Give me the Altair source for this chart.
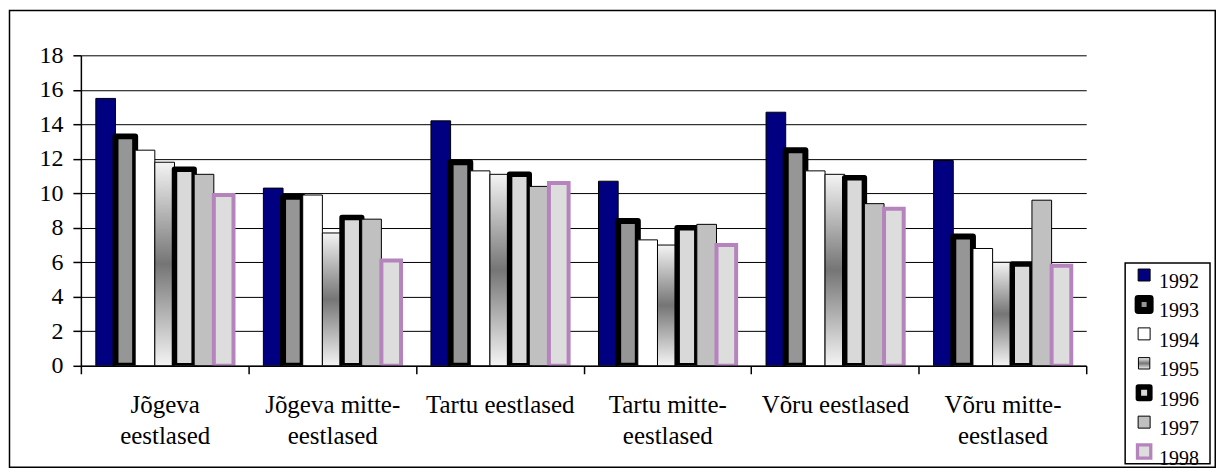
import altair as alt
import pandas as pd

categories = ["Jõgeva|eestlased", "Jõgeva mitte-|eestlased", "Tartu eestlased",
              "Tartu mitte-|eestlased", "Võru eestlased", "Võru mitte-|eestlased"]
years = ["1992", "1993", "1994", "1995", "1996", "1997", "1998"]
v1992 = [15.5, 10.3, 14.2, 10.7, 14.7, 11.9]
v1993 = [13.3, 9.8, 11.8, 8.4, 12.5, 7.5]
v1994 = [12.5, 9.9, 11.3, 7.3, 11.3, 6.8]
v1995 = [11.8, 7.7, 11.1, 7.0, 11.1, 6.0]
v1996 = [11.4, 8.6, 11.1, 8.0, 10.9, 5.9]
v1997 = [11.1, 8.5, 10.4, 8.2, 9.4, 9.6]
v1998 = [9.9, 6.1, 10.6, 7.0, 9.1, 5.8]
y_ticks = [0, 2, 4, 6, 8, 10, 12, 14, 16, 18]

series = [v1992, v1993, v1994, v1995, v1996, v1997, v1998]
rows = []
for yr, vals in zip(years, series):
    for c, v in zip(categories, vals):
        rows.append({"category": c, "year": yr, "value": v})
df = pd.DataFrame(rows)

FONT = "Liberation Serif, Times New Roman, DejaVu Serif, serif"

gradient = alt.LinearGradient(
    gradient="linear",
    stops=[alt.GradientStop(color="#f4f4f4", offset=0),
           alt.GradientStop(color="#757575", offset=0.5),
           alt.GradientStop(color="#f4f4f4", offset=1)],
    x1=0, x2=0, y1=0, y2=1,
)

bar_styles = {
    "1992": dict(fill="#000080", stroke="#000000", strokeWidth=1),
    "1993": dict(fill="#969696", stroke="#000000", strokeWidth=6, strokeJoin="round"),
    "1994": dict(fill="#ffffff", stroke="#000000", strokeWidth=1),
    "1995": dict(fill=gradient, stroke="#000000", strokeWidth=1),
    "1996": dict(fill="#d9d9d9", stroke="#000000", strokeWidth=5.5, strokeJoin="round"),
    "1997": dict(fill="#c0c0c0", stroke="#000000", strokeWidth=1),
    "1998": dict(fill="#dddddd", stroke="#b584bd", strokeWidth=4),
}
legend_styles = {
    "1992": dict(fill="#000080", stroke="#000000", strokeWidth=1, size=144),
    "1993": dict(fill="#969696", stroke="#000000", strokeWidth=7, size=144, strokeJoin="round"),
    "1994": dict(fill="#ffffff", stroke="#000000", strokeWidth=1, size=144),
    "1995": dict(fill=gradient, stroke="#000000", strokeWidth=1, size=130),
    "1996": dict(fill="#d9d9d9", stroke="#000000", strokeWidth=5.5, size=132, strokeJoin="round"),
    "1997": dict(fill="#c0c0c0", stroke="#000000", strokeWidth=1, size=144),
    "1998": dict(fill="#dddddd", stroke="#b584bd", strokeWidth=3.3, size=177),
}

x_enc = alt.X(
    "category:N", sort=categories, title=None,
    scale=alt.Scale(domain=categories, paddingInner=0, paddingOuter=0),
    axis=alt.Axis(labelExpr="split(datum.label, '|')", labelAngle=0, tickBand="extent",
                  tickSize=8, tickWidth=1.5, tickColor="black", domainColor="black",
                  domainWidth=1.5, labelFont=FONT, labelFontSize=25, labelColor="black",
                  labelLineHeight=31, labelPadding=19, labelBaseline="top", grid=False,
                  zindex=1, labelLimit=400),
)
y_enc = alt.Y(
    "value:Q", title=None,
    scale=alt.Scale(domain=[0, 18], nice=False),
    axis=alt.Axis(values=y_ticks, grid=True, gridColor="black", gridWidth=1,
                  domainColor="black", domainWidth=1.5, tickColor="black", tickSize=8,
                  tickWidth=1.5, labelFont=FONT, labelFontSize=24, labelColor="black",
                  labelPadding=10),
)
xoff_enc = alt.XOffset("year:N", scale=alt.Scale(domain=years, paddingInner=0, paddingOuter=0.76))

bar_layers = []
for yr in years:
    bar_layers.append(
        alt.Chart(df).transform_filter(alt.datum.year == yr)
        .mark_bar(clip=True, **bar_styles[yr])
        .encode(x=x_enc, xOffset=xoff_enc, y=y_enc)
    )

frame = alt.Chart(pd.DataFrame({"a": [0]})).mark_rect(
    fillOpacity=0, stroke="black", strokeWidth=1.5
).encode(x=alt.value(-71.5), x2=alt.value(1136.25), y=alt.value(-45), y2=alt.value(412.75))

main = alt.layer(*bar_layers, frame).properties(width=1007, height=311)

legend_df = pd.DataFrame({"year": years})
ly = alt.Y("year:N", scale=alt.Scale(domain=years, padding=0.41), axis=None)
legend_layers = []
for yr in years:
    legend_layers.append(
        alt.Chart(legend_df).transform_filter(alt.datum.year == yr)
        .mark_square(opacity=1, **legend_styles[yr])
        .encode(x=alt.value(19), y=ly)
    )
legend_text = alt.Chart(legend_df).mark_text(
    align="left", baseline="alphabetic", dy=13, font=FONT, fontSize=20, color="black"
).encode(x=alt.value(34), y=ly, text="year:N")

legend = alt.layer(*legend_layers, legend_text).properties(
    width=85, height=201, view=alt.ViewBackground(stroke="black", strokeWidth=1.5)
)

spacer = alt.Chart(pd.DataFrame({"a": [0]})).mark_point(opacity=0).encode(
    x=alt.value(0), y=alt.value(0)
).properties(width=85, height=206)

right = alt.vconcat(spacer, legend, spacing=0)

chart = alt.hconcat(main, right, spacing=39, bounds="flush").properties(
    padding=0
).configure_view(stroke="transparent")

chart.save("out.html", embed_options={"renderer": "svg", "actions": False})
